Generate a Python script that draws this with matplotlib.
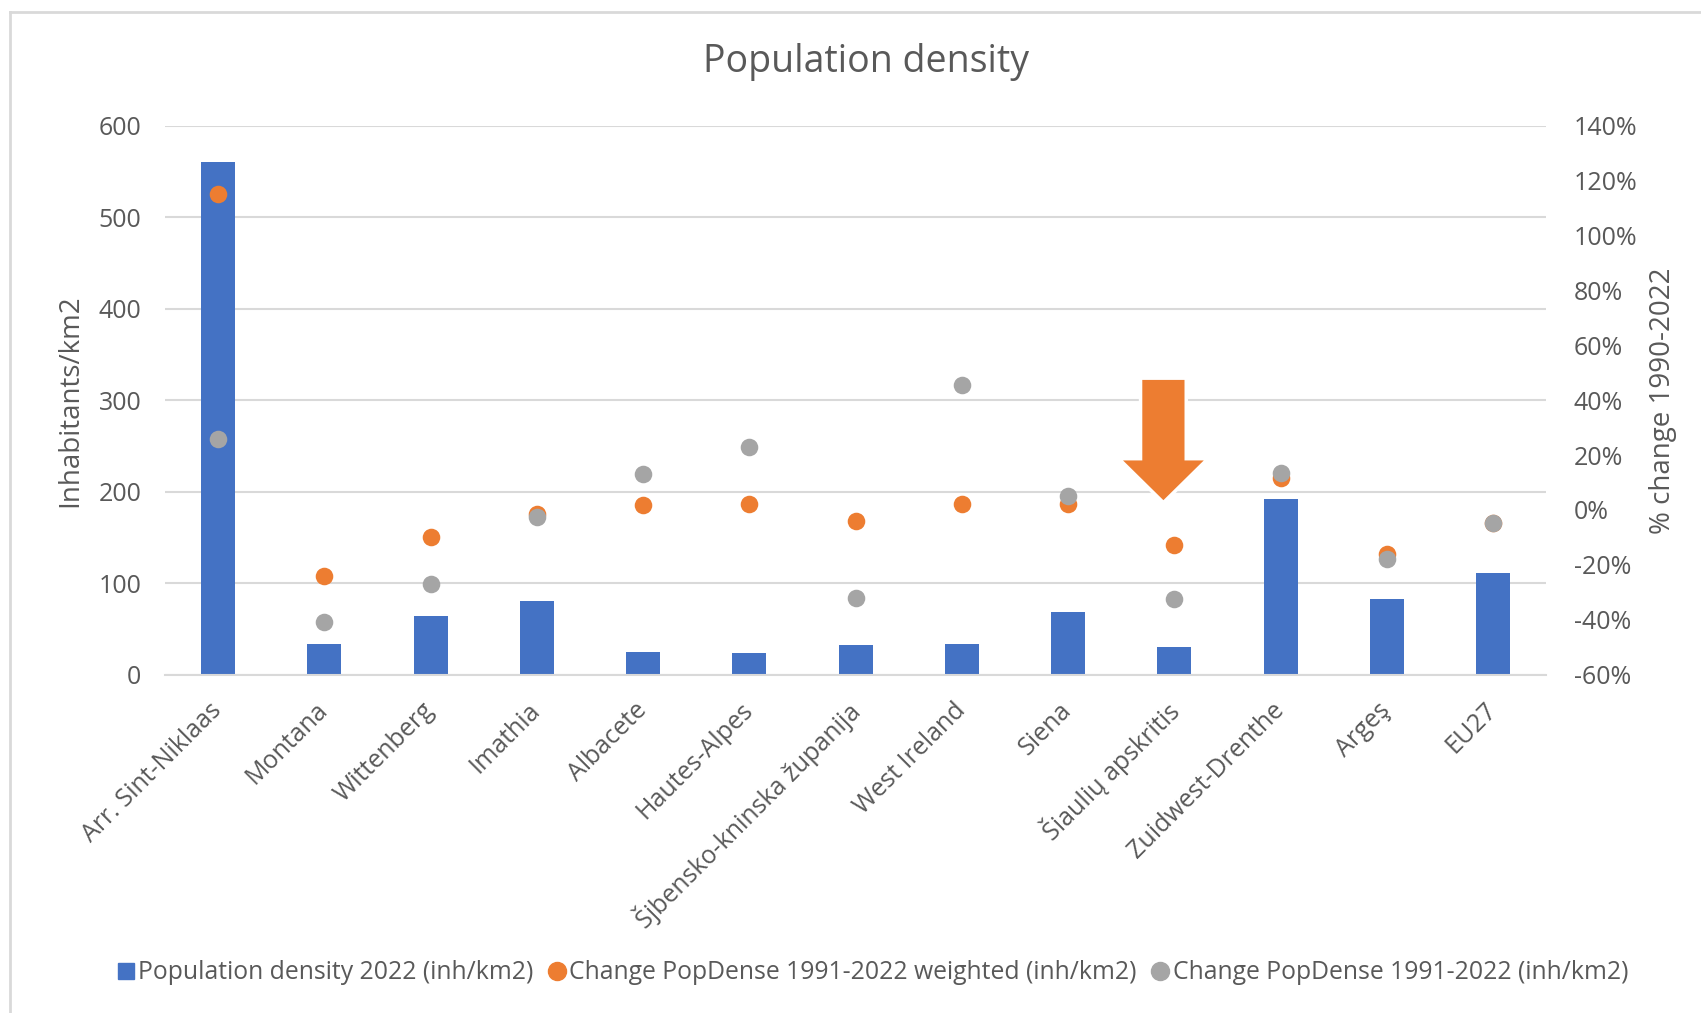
import matplotlib
matplotlib.use('Agg')
import matplotlib.pyplot as plt
from matplotlib.patches import Polygon
from matplotlib.lines import Line2D
from matplotlib.ticker import FuncFormatter

plt.rcParams['font.family'] = ['Open Sans', 'DejaVu Sans']

regions = ['Arr. Sint-Niklaas', 'Montana', 'Wittenberg', 'Imathia', 'Albacete',
           'Hautes-Alpes', 'Šjbensko-kninska županija', 'West Ireland', 'Siena',
           'Šiaulių apskritis', 'Zuidwest-Drenthe', 'Argeş', 'EU27']
density_2022 = [560, 33, 64, 81, 25, 24, 32, 33, 68, 30, 192, 83, 111]
change_weighted = [115, -24, -10, -1.5, 1.7, 2, -4, 2, 2, -12.6, 11.5, -16, -4.9]
change_plain = [25.7, -40.7, -27, -2.4, 13, 23, -32, 45.5, 5, -32.4, 13.4, -17.8, -4.7]

blue = '#4472C4'
orange = '#ED7D31'
grey = '#A5A5A5'
txt = '#595959'
grid = '#D9D9D9'

fig = plt.figure(figsize=(17.01, 10.13), dpi=100)
ax = fig.add_axes([0.097, 0.334, 0.812, 0.542])
ax2 = ax.twinx()

x = list(range(len(regions)))
ax.bar(x, density_2022, width=0.32, color=blue, zorder=2)
ax.set_ylim(0, 600)
ax.set_xlim(-0.5, len(regions) - 0.5)
ax.set_yticks(range(0, 601, 100))
ax.yaxis.grid(True, color=grid, linewidth=1.5, zorder=0)
ax.set_axisbelow(True)

ax2.scatter(x, change_weighted, s=160, color=orange, zorder=3, linewidths=0)
ax2.scatter(x, change_plain, s=160, color=grey, zorder=4, linewidths=0)
ax2.set_ylim(-60, 140)
ax2.set_yticks(range(-60, 141, 20))
ax2.yaxis.set_major_formatter(FuncFormatter(lambda v, p: '{:.0f}%'.format(v)))

# la flèche orange au-dessus de Šiaulių (coordonnées de l'axe gauche)
arrow = Polygon([(8.682, 324), (9.112, 324), (9.112, 236), (9.317, 236),
                 (8.897, 188), (8.477, 236), (8.682, 236)],
                closed=True, facecolor=orange, edgecolor='white', linewidth=2.5,
                zorder=5, transform=ax.transData)
ax2.add_patch(arrow)

for a in (ax, ax2):
    for s in a.spines.values():
        s.set_visible(False)
    a.tick_params(length=0, labelsize=18, labelcolor=txt)
ax.spines['bottom'].set_visible(True)
ax.spines['bottom'].set_color(grid)
ax.spines['bottom'].set_linewidth(1.5)
ax.tick_params(axis='y', pad=17)
ax2.tick_params(axis='y', pad=20)

ax.set_xticks(x)
ax.set_xticklabels(regions, rotation=45, ha='right', va='center', rotation_mode='anchor')
ax.tick_params(axis='x', pad=23)

fig.text(70.5 / 1701, 0.604, 'Inhabitants/km2', rotation=90, ha='center', va='center',
         fontsize=20, color=txt)
fig.text(1663 / 1701, 0.604, '% change 1990-2022', rotation=90, ha='center', va='center',
         fontsize=20, color=txt)

fig.text(0.509, 0.939, 'Population density', ha='center', va='center', fontsize=27, color=txt)

handles = [
    Line2D([], [], marker='s', linestyle='', color=blue, markersize=12),
    Line2D([], [], marker='o', linestyle='', color=orange, markersize=13),
    Line2D([], [], marker='o', linestyle='', color=grey, markersize=13),
]
labels = ['Population density 2022 (inh/km2)',
          'Change PopDense 1991-2022 weighted (inh/km2)',
          'Change PopDense 1991-2022 (inh/km2)']
leg = fig.legend(handles, labels, loc='center', bbox_to_anchor=(0.512, 0.0395), ncol=3,
                 frameon=False, fontsize=17.8, handletextpad=0.0, columnspacing=0.45,
                 handlelength=1.0, labelcolor=txt)

# cadre du graphique (bord gauche et haut)
fig.add_artist(Line2D([10 / 1701, 10 / 1701], [0, 1 - 12 / 1013], transform=fig.transFigure,
                      color='#D9D9D9', linewidth=2))
fig.add_artist(Line2D([10 / 1701, 1], [1 - 12 / 1013, 1 - 12 / 1013], transform=fig.transFigure,
                      color='#D9D9D9', linewidth=2))

fig.savefig('out.png', dpi=100)
